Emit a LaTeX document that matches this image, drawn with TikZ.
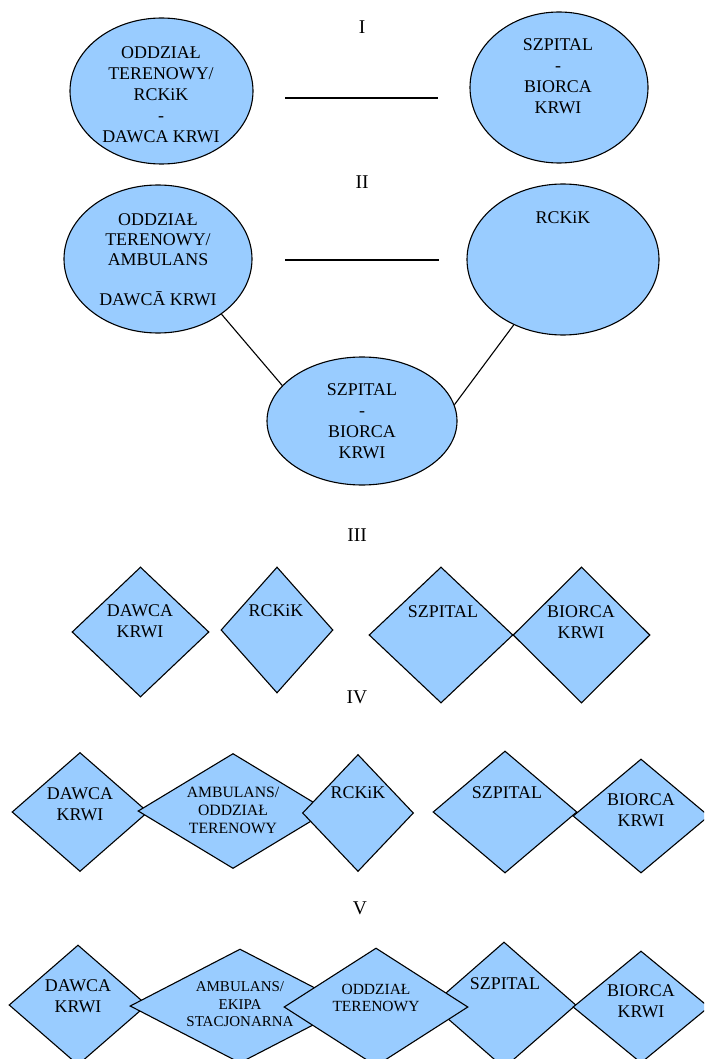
\documentclass[tikz,border=0pt]{standalone}
\usepackage{fontspec}
\setmainfont{Liberation Serif}
\usetikzlibrary{shapes.geometric}
\definecolor{shapeblue}{RGB}{153,204,255}
\tikzset{
  ell/.style={ellipse, draw=black, fill=shapeblue, line width=1.1pt, inner sep=0pt},
  dia/.style={diamond, draw=black, fill=shapeblue, line width=1.1pt, inner sep=0pt},
  lbl/.style={align=center, inner sep=0pt, font=\fontsize{17.9pt}{21pt}\selectfont},
  lblsmall/.style={align=center, inner sep=0pt, font=\fontsize{15.7pt}{18pt}\selectfont},
  lblsmaller/.style={align=center, inner sep=0pt, font=\fontsize{15pt}{17.5pt}\selectfont},
  ttl/.style={inner sep=0pt, font=\fontsize{19.5pt}{23pt}\selectfont},
  conn/.style={line width=1.1pt, draw=black}
}
\begin{document}
\begin{tikzpicture}[x=1pt, y=-1pt]
\useasboundingbox (0,0) rectangle (704,1059);
\clip (0,0) rectangle (704,1059);
% ---------- titles
\node[ttl] (t1) at (362,27) {I};
\node[ttl] (t2) at (362,182) {II};
\node[ttl] (t3) at (357,535) {III};
\node[ttl] (t4) at (357,697) {IV};
\node[ttl] (t5) at (360,908) {V};
% ---------- section I
\node[ell, minimum width=183pt, minimum height=146pt] (e1) at (161.5,91) {};
\node[ell, minimum width=178pt, minimum height=151pt] (e2) at (559,87.5) {};
\coordinate (l1a) at (285,98);
\coordinate (l1b) at (438,98);
\draw[conn] (l1a) -- (l1b);
\node[lbl] (e1t) at (161,94.5) {ODDZIAŁ\\TERENOWY/\\RCKiK\\-\\DAWCA KRWI};
\node[lbl] (e2t) at (558,76) {SZPITAL\\-\\BIORCA\\KRWI};
% ---------- section II
\node[ell, minimum width=188pt, minimum height=148pt] (e3) at (158,259) {};
\node[ell, minimum width=192pt, minimum height=151pt] (e4) at (563,259.5) {};
\node[ell, minimum width=190pt, minimum height=128pt] (e5) at (362,421) {};
\coordinate (l2a) at (285,260);
\coordinate (l2b) at (439,260);
\draw[conn] (l2a) -- (l2b);
\draw[conn] (e3.-41.6) -- (e5.156.2);
\draw[conn] (e4.-127.2) -- (e5.10);
\node[lbl, font=\fontsize{17.9pt}{20pt}\selectfont] (e3t) at (158,260) {ODDZIAŁ\\TERENOWY/\\AMBULANS\\\mbox{}\\DAWC\={A} KRWI};
\node[lbl] (e4t) at (563,218) {RCKiK};
\node[lbl] (e5t) at (362,421.5) {SZPITAL\\-\\BIORCA\\KRWI};
% ---------- section III
\node[dia, minimum width=137pt, minimum height=130pt] (d1) at (140.5,632) {};
\node[dia, minimum width=112pt, minimum height=126pt] (d2) at (277,630) {};
\node[dia, minimum width=144pt, minimum height=136pt] (d3) at (441,635) {};
\node[dia, minimum width=137pt, minimum height=136pt] (d4) at (581.5,635) {};
\node[lbl] (d1t) at (140,621) {DAWCA\\KRWI};
\node[lbl] (d2t) at (276,611) {RCKiK};
\node[lbl] (d3t) at (443,612) {SZPITAL};
\node[lbl] (d4t) at (581,622.5) {BIORCA\\KRWI};
% ---------- section IV
\node[dia, minimum width=136pt, minimum height=119pt] (d5) at (80,812) {};
\node[dia, minimum width=190pt, minimum height=115pt] (d6) at (233,811) {};
\node[dia, minimum width=111pt, minimum height=117pt] (d7) at (358,813) {};
\node[dia, minimum width=144pt, minimum height=122pt] (d8) at (505,812) {};
\node[dia, minimum width=136pt, minimum height=114pt] (d9) at (641,816) {};
\node[lbl] (d5t) at (80,804.5) {DAWCA\\KRWI};
\node[lblsmall] (d6t) at (233,810) {AMBULANS/\\ODDZIAŁ\\TERENOWY};
\node[lbl] (d7t) at (358,793) {RCKiK};
\node[lbl] (d8t) at (507,793) {SZPITAL};
\node[lbl] (d9t) at (641,810) {BIORCA\\KRWI};
% ---------- section V
\node[dia, minimum width=138pt, minimum height=120pt] (d10) at (78,1005) {};
\node[dia, minimum width=220pt, minimum height=114pt] (d11) at (240,1006) {};
\node[dia, minimum width=144pt, minimum height=126pt] (d13) at (504,1005) {};
\node[dia, minimum width=184pt, minimum height=118pt] (d12) at (376,1007) {};
\node[dia, minimum width=136pt, minimum height=112pt] (d14) at (641,1007) {};
\node[lbl] (d10t) at (78,996.5) {DAWCA\\KRWI};
\node[lblsmaller] (d11t) at (240,1004.5) {AMBULANS/\\EKIPA\\STACJONARNA};
\node[lbl, font=\fontsize{15.5pt}{17pt}\selectfont] (d12t) at (376,997.5) {ODDZIAŁ\\TERENOWY};
\node[lbl] (d13t) at (505,984) {SZPITAL};
\node[lbl] (d14t) at (641,1001) {BIORCA\\KRWI};
\end{tikzpicture}
\end{document}
